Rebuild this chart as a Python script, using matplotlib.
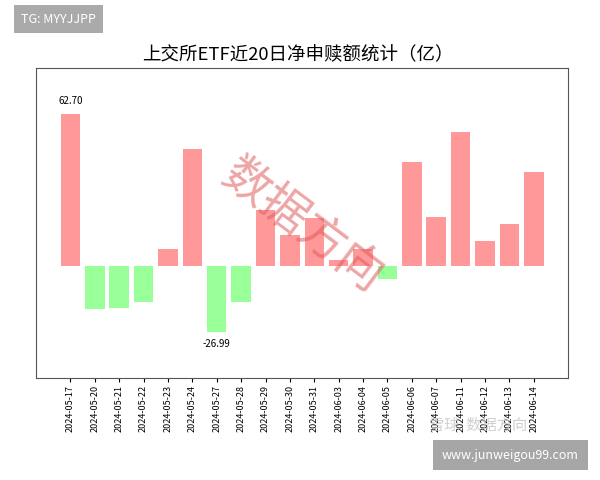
import matplotlib
matplotlib.use('Agg')
import matplotlib.pyplot as plt
import numpy as np

plt.rcParams['font.family'] = ['Noto Sans CJK SC', 'DejaVu Sans']
plt.rcParams['axes.unicode_minus'] = False

# 上交所ETF近20日净申赎额（亿）
dates = ['2024-05-17', '2024-05-20', '2024-05-21', '2024-05-22', '2024-05-23',
         '2024-05-24', '2024-05-27', '2024-05-28', '2024-05-29', '2024-05-30',
         '2024-05-31', '2024-06-03', '2024-06-04', '2024-06-05', '2024-06-06',
         '2024-06-07', '2024-06-11', '2024-06-12', '2024-06-13', '2024-06-14']
values = [62.70, -17.4, -17.0, -14.5, 7.3,
          48.3, -26.99, -14.6, 23.3, 13.0,
          19.9, 2.8, 7.0, -5.1, 42.7,
          20.3, 55.2, 10.3, 17.3, 38.6]

vals = np.array(values)
x = np.arange(len(dates))
colors = ['#ff9999' if v >= 0 else '#99ff99' for v in vals]

fig = plt.figure(figsize=(6, 4.8), dpi=100)
ax = fig.add_axes([0.06, 0.2125, 0.887, 0.646])
ax.bar(x, vals, width=0.8, color=colors)

ax.set_xlim(-1.41, len(dates) - 1 + 1.41)
ax.set_ylim(vals.min() * 1.7, vals.max() * 1.3)
ax.set_yticks([])
ax.set_xticks(x)
ax.set_xticklabels(dates, rotation=90, fontsize=6.5)
ax.tick_params(axis='x', length=3, pad=2)
for s in ax.spines.values():
    s.set_color('#555555')

imax = int(vals.argmax())
imin = int(vals.argmin())
ax.text(imax, vals[imax] + 3, '%.2f' % vals[imax], ha='center', va='bottom', fontsize=7)
ax.text(imin, vals[imin] - 3, '%.2f' % vals[imin], ha='center', va='top', fontsize=7)

fig.text(0.497, 0.885, '上交所ETF近20日净申赎额统计（亿）', ha='center', va='center', fontsize=13.3)

# watermarks
ax.text(0.5, 0.49, '数据方向', transform=ax.transAxes, rotation=-37, fontsize=34,
        color='#e05a5a', alpha=0.55, ha='center', va='center')
fig.text(0.715, 0.113, '雪球  数据方向', fontsize=11, color='#c4c4c4', alpha=0.8, ha='left', va='center')
fig.text(0.035, 0.96, 'TG: MYYJJPP', fontsize=9, color='white', ha='left', va='center',
         bbox=dict(boxstyle='square,pad=0.6', fc='#aaaaaa', ec='none'))
fig.text(0.965, 0.052, 'www.junweigou99.com', fontsize=9, color='white', ha='right', va='center',
         bbox=dict(boxstyle='square,pad=0.7', fc='#a6a6a6', ec='none'))

plt.savefig('out.png', dpi=100)
